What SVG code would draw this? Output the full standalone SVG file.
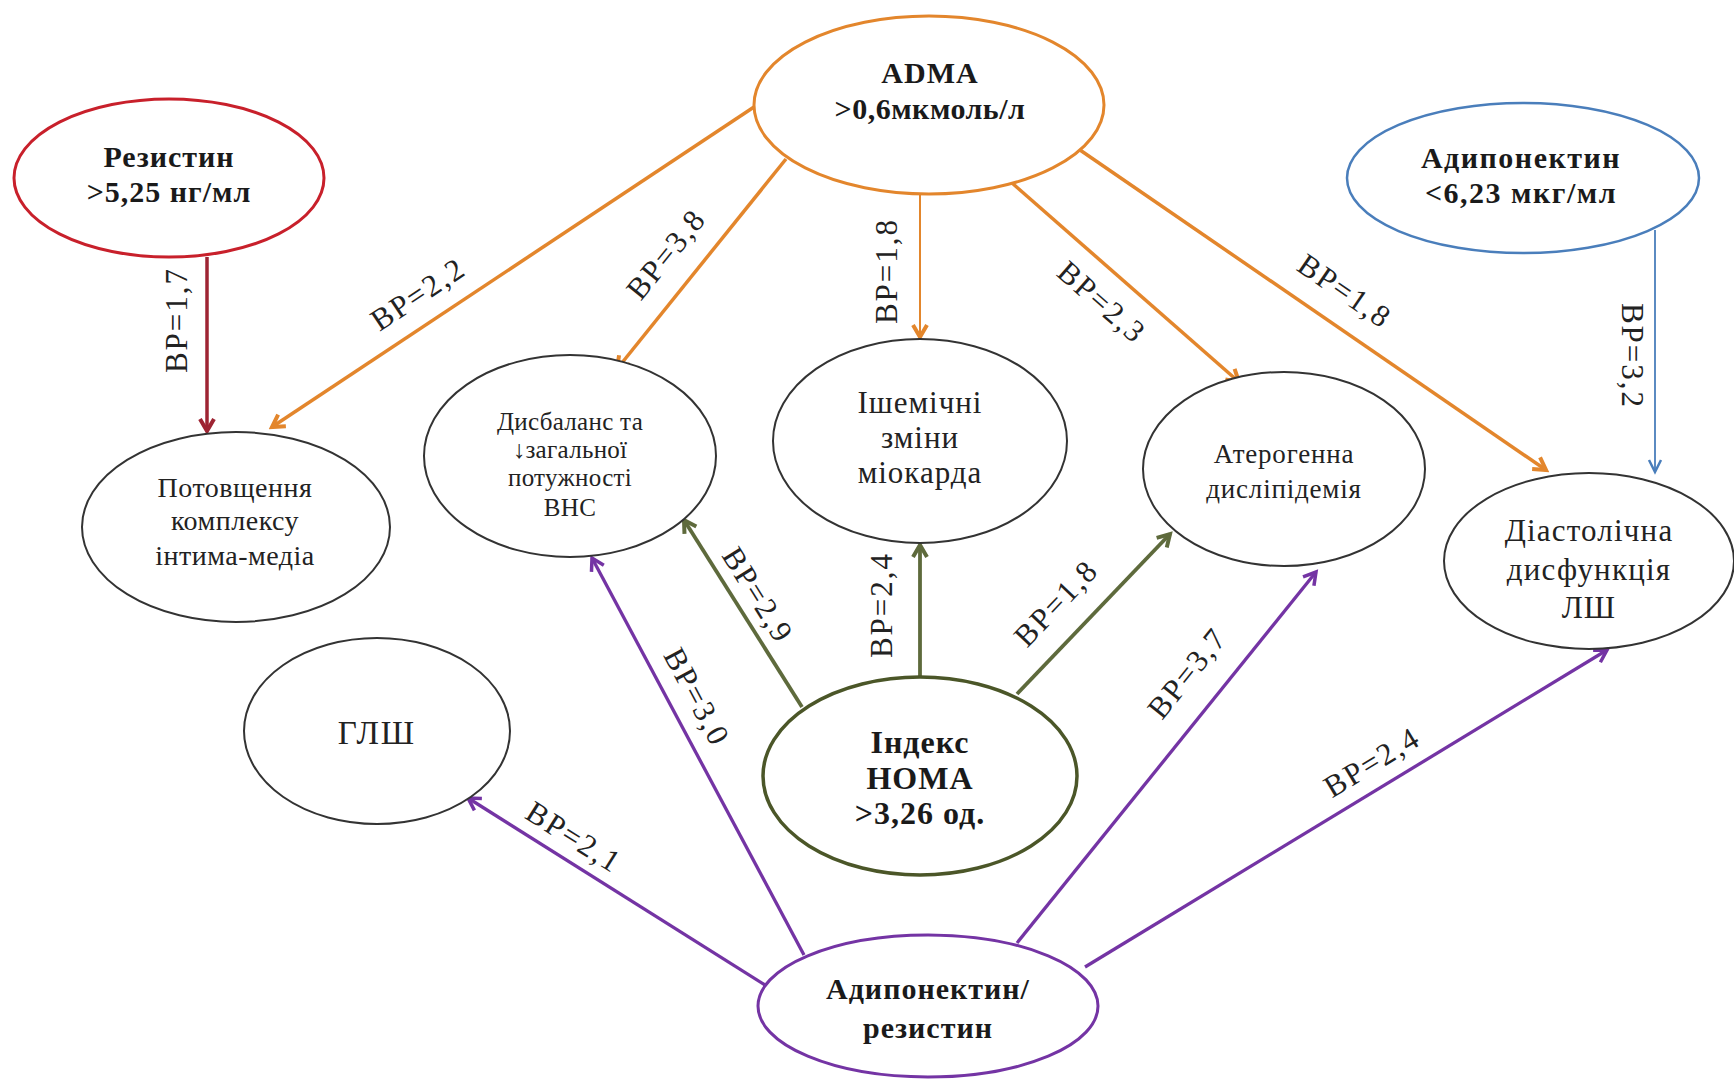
<svg xmlns="http://www.w3.org/2000/svg" width="1734" height="1080" viewBox="0 0 1734 1080">
<style>
.bg{fill:#ffffff}
.n{fill:#ffffff;stroke:#333333;stroke-width:2}
.src{font-family:"Liberation Serif","Times New Roman",serif;font-weight:bold;font-size:30px;letter-spacing:1px;fill:#1a1a1a;text-anchor:middle;dominant-baseline:central}
.out{font-family:"Liberation Serif","Times New Roman",serif;font-size:28px;letter-spacing:0.5px;fill:#222222;text-anchor:middle;dominant-baseline:central}
.lbl{font-family:"Liberation Serif","Times New Roman",serif;font-size:31px;fill:#222222;text-anchor:middle;dominant-baseline:central;letter-spacing:2px}
.or{stroke:#E3862C;stroke-width:3.5;fill:none}
.rd{stroke:#9E2433;stroke-width:3.5;fill:none}
.bl{stroke:#4A7EBB;stroke-width:1.8;fill:none}
.gr{stroke:#5E6A3C;stroke-width:3.8;fill:none}
.pu{stroke:#7434A4;stroke-width:3.3;fill:none}
</style>
<defs>
<marker id="aOr" markerUnits="userSpaceOnUse" markerWidth="20" markerHeight="20" viewBox="-16 -10 20 20" refX="0" refY="0" orient="auto"><path d="M-12,-7 L0,0 L-12,7" fill="none" stroke="#E3862C" stroke-width="4"/></marker>
<marker id="aRd" markerUnits="userSpaceOnUse" markerWidth="20" markerHeight="20" viewBox="-16 -10 20 20" refX="0" refY="0" orient="auto"><path d="M-12,-7 L0,0 L-12,7" fill="none" stroke="#9E2433" stroke-width="4"/></marker>
<marker id="aBl" markerUnits="userSpaceOnUse" markerWidth="20" markerHeight="20" viewBox="-16 -10 20 20" refX="0" refY="0" orient="auto"><path d="M-12,-6 L0,0 L-12,6" fill="none" stroke="#4A7EBB" stroke-width="2.5"/></marker>
<marker id="aGr" markerUnits="userSpaceOnUse" markerWidth="20" markerHeight="20" viewBox="-16 -10 20 20" refX="0" refY="0" orient="auto"><path d="M-12,-7 L0,0 L-12,7" fill="none" stroke="#5E6A3C" stroke-width="4"/></marker>
<marker id="aPu" markerUnits="userSpaceOnUse" markerWidth="20" markerHeight="20" viewBox="-16 -10 20 20" refX="0" refY="0" orient="auto"><path d="M-12,-7 L0,0 L-12,7" fill="none" stroke="#7434A4" stroke-width="3.5"/></marker>
</defs>
<rect class="bg" x="0" y="0" width="1734" height="1080"/>

<g id="connectors">
<line class="rd" x1="207" y1="257" x2="207" y2="431" marker-end="url(#aRd)"/>
<line class="or" x1="754" y1="107" x2="272" y2="427" marker-end="url(#aOr)"/>
<line class="or" x1="786" y1="159" x2="617" y2="369" marker-end="url(#aOr)"/>
<line class="or" x1="920" y1="194" x2="920" y2="337" marker-end="url(#aOr)" style="stroke-width:2"/>
<line class="or" x1="1012" y1="183" x2="1239" y2="382" marker-end="url(#aOr)"/>
<line class="or" x1="1080" y1="150" x2="1546" y2="470" marker-end="url(#aOr)"/>
<line class="bl" x1="1655" y1="230" x2="1655" y2="472" marker-end="url(#aBl)"/>
<line class="gr" x1="802" y1="707" x2="684" y2="520" marker-end="url(#aGr)"/>
<line class="gr" x1="920" y1="677" x2="920" y2="545" marker-end="url(#aGr)"/>
<line class="gr" x1="1017" y1="694" x2="1170" y2="534" marker-end="url(#aGr)"/>
<line class="pu" x1="765" y1="985" x2="468" y2="798" marker-end="url(#aPu)"/>
<line class="pu" x1="804" y1="955" x2="592" y2="558" marker-end="url(#aPu)"/>
<line class="pu" x1="1017" y1="943" x2="1316" y2="572" marker-end="url(#aPu)"/>
<line class="pu" x1="1085" y1="967" x2="1607" y2="650" marker-end="url(#aPu)"/>
<text class="lbl" transform="translate(176,320) rotate(-90)">ВР=1,7</text>
<text class="lbl" transform="translate(418,294) rotate(-33.6)">ВР=2,2</text>
<text class="lbl" transform="translate(666,254) rotate(-51)">ВР=3,8</text>
<text class="lbl" transform="translate(886,271) rotate(-90)">ВР=1,8</text>
<text class="lbl" transform="translate(1102,302) rotate(41.4)">ВР=2,3</text>
<text class="lbl" transform="translate(1345,291) rotate(34.5)">ВР=1,8</text>
<text class="lbl" transform="translate(1632,356) rotate(90)">ВР=3,2</text>
<text class="lbl" transform="translate(758,595) rotate(58)">ВР=2,9</text>
<text class="lbl" transform="translate(881,605) rotate(-90)">ВР=2,4</text>
<text class="lbl" transform="translate(1056,603) rotate(-46.5)">ВР=1,8</text>
<text class="lbl" transform="translate(574,837) rotate(32.2)">ВР=2,1</text>
<text class="lbl" transform="translate(697,697) rotate(62)">ВР=3,0</text>
<text class="lbl" transform="translate(1187,673) rotate(-51.2)">ВР=3,7</text>
<text class="lbl" transform="translate(1372,762) rotate(-31.3)">ВР=2,4</text>
</g>

<g id="resistin">
<ellipse class="n" cx="169" cy="178" rx="155" ry="79" style="stroke:#C8202B;stroke-width:3"/>
<text class="src" x="169" y="156">Резистин</text>
<text class="src" x="169" y="191">&gt;5,25 нг/мл</text>
</g>
<g id="adma">
<ellipse class="n" cx="929" cy="105" rx="175" ry="89" style="stroke:#E3862C;stroke-width:3"/>
<text class="src" x="930" y="72">ADMA</text>
<text class="src" x="930" y="108" style="letter-spacing:0.5px">&gt;0,6мкмоль/л</text>
</g>
<g id="adiponectin">
<ellipse class="n" cx="1523" cy="178" rx="176" ry="75" style="stroke:#4A7EBB;stroke-width:2.5"/>
<text class="src" x="1521" y="157" style="letter-spacing:1.5px">Адипонектин</text>
<text class="src" x="1521" y="192" style="letter-spacing:1.5px">&lt;6,23 мкг/мл</text>
</g>
<g id="potovshchennia">
<ellipse class="n" cx="236" cy="527" rx="154" ry="95"/>
<text class="out" x="235" y="487">Потовщення</text>
<text class="out" x="235" y="520">комплексу</text>
<text class="out" x="235" y="555">інтима-медіа</text>
</g>
<g id="dysbalans">
<ellipse class="n" cx="570" cy="456" rx="146" ry="101"/>
<text class="out" x="570" y="421" style="font-size:25px;letter-spacing:0.3px">Дисбаланс та</text>
<text class="out" x="570" y="449" style="font-size:25px;letter-spacing:0.3px">↓загальної</text>
<text class="out" x="570" y="477" style="font-size:25px;letter-spacing:0.3px">потужності</text>
<text class="out" x="570" y="507" style="font-size:25px;letter-spacing:0.3px">ВНС</text>
</g>
<g id="ishemichni">
<ellipse class="n" cx="920" cy="441" rx="147" ry="102"/>
<text class="out" x="920" y="402" style="font-size:31px;letter-spacing:1px">Ішемічні</text>
<text class="out" x="920" y="437" style="font-size:31px;letter-spacing:1px">зміни</text>
<text class="out" x="920" y="472" style="font-size:31px;letter-spacing:1px">міокарда</text>
</g>
<g id="aterogenna">
<ellipse class="n" cx="1284" cy="469" rx="141" ry="97"/>
<text class="out" x="1284" y="454" style="font-size:27px;letter-spacing:0.8px">Атерогенна</text>
<text class="out" x="1284" y="489" style="font-size:27px;letter-spacing:0.8px">дисліпідемія</text>
</g>
<g id="diastolichna">
<ellipse class="n" cx="1589" cy="561" rx="145" ry="88"/>
<text class="out" x="1589" y="530" style="font-size:31px;letter-spacing:1.2px">Діастолічна</text>
<text class="out" x="1589" y="569" style="font-size:31px;letter-spacing:1.2px">дисфункція</text>
<text class="out" x="1589" y="607" style="font-size:31px;letter-spacing:1.2px">ЛШ</text>
</g>
<g id="glsh">
<ellipse class="n" cx="377" cy="731" rx="133" ry="93"/>
<text class="out" x="377" y="733" style="font-size:33px;letter-spacing:2px">ГЛШ</text>
</g>
<g id="homa">
<ellipse class="n" cx="920" cy="776" rx="157" ry="99" style="stroke:#4B5628;stroke-width:3.5"/>
<text class="src" x="920" y="742" style="font-size:32px">Індекс</text>
<text class="src" x="920" y="778" style="font-size:32px">НОМА</text>
<text class="src" x="920" y="813" style="font-size:32px">&gt;3,26 од.</text>
</g>
<g id="adip_res">
<ellipse class="n" cx="928" cy="1006" rx="170" ry="71" style="stroke:#7434A4;stroke-width:3"/>
<text class="src" x="928" y="988">Адипонектин/</text>
<text class="src" x="928" y="1027">резистин</text>
</g>
</svg>
